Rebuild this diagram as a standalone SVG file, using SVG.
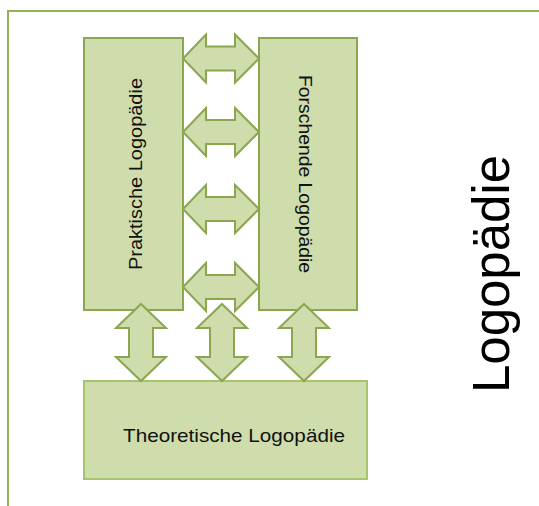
<svg xmlns="http://www.w3.org/2000/svg" width="539" height="506" viewBox="0 0 539 506">
  <style>
    .box { fill: #cfdcab; stroke: #8ba64f; stroke-width: 2; }
    .box2 { fill: #cfdcab; stroke: #a6c46e; stroke-width: 2; }
    .arr { fill: #cfdcab; stroke: #8ba64f; stroke-width: 2; stroke-linejoin: miter; }
    .lbl { font-family: "Liberation Sans", Arial, sans-serif; font-size: 19px; fill: #111; }
    .big { font-family: "Liberation Sans", Arial, sans-serif; font-size: 52px; fill: #000; }
    .frame { fill: none; stroke: #94b155; stroke-width: 2; }
  </style>
  <defs>
    <path id="harr" d="M183,0 L206,-24 L206,-12 L235,-12 L235,-24 L259,0 L235,24 L235,12 L206,12 L206,24 Z"/>
    <path id="varr" d="M0,304 L25,328 L12,328 L12,357 L25,357 L0,381 L-25,357 L-12,357 L-12,328 L-25,328 Z"/>
  </defs>
  <rect width="539" height="506" fill="#ffffff"/>
  <g id="frame">
    <polyline class="frame" points="8,506 8,11 539,11"/>
  </g>
  <g id="praktische">
    <rect class="box" x="84" y="38" width="99" height="272"/>
    <text class="lbl" transform="translate(141.5,174) rotate(-90)" text-anchor="middle" textLength="192" lengthAdjust="spacingAndGlyphs">Praktische Logopädie</text>
  </g>
  <g id="forschende">
    <rect class="box" x="259" y="38" width="98" height="272"/>
    <text class="lbl" transform="translate(298.5,174) rotate(90)" text-anchor="middle" textLength="198" lengthAdjust="spacingAndGlyphs">Forschende Logopädie</text>
  </g>
  <g id="theoretische">
    <rect class="box2" x="84" y="381" width="283" height="98"/>
    <text class="lbl" x="234" y="442" text-anchor="middle" textLength="222" lengthAdjust="spacingAndGlyphs">Theoretische Logopädie</text>
  </g>
  <g id="connectors">
    <use href="#harr" class="arr" transform="translate(0,58.5)"/>
    <use href="#harr" class="arr" transform="translate(0,132)"/>
    <use href="#harr" class="arr" transform="translate(0,209)"/>
    <use href="#harr" class="arr" transform="translate(0,287)"/>
    <use href="#varr" class="arr" transform="translate(141,0)"/>
    <use href="#varr" class="arr" transform="translate(222,0)"/>
    <use href="#varr" class="arr" transform="translate(304,0)"/>
  </g>
  <g id="logopaedie">
    <text class="big" transform="translate(509,274) rotate(-90)" text-anchor="middle" textLength="238" lengthAdjust="spacingAndGlyphs">Logopädie</text>
  </g>
</svg>
